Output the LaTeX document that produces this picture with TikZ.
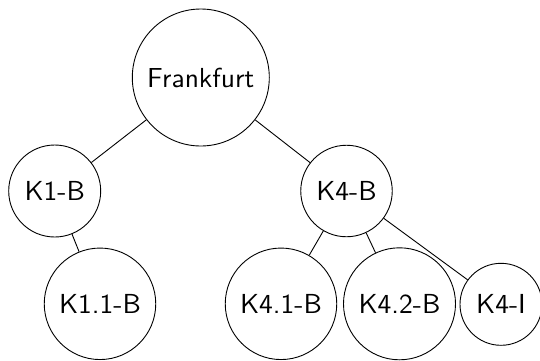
\documentclass[tikz,border=0pt]{standalone}
\usepackage{fontspec}
\newfontfamily\lmsten{lmsans10-regular.otf}
\begin{document}
\begin{tikzpicture}[x=1pt,y=-1pt,
  every node/.style={font=\lmsten\fontsize{27.5}{33}\selectfont},
  city/.style={draw, circle, inner sep=0pt, line width=0.9pt},
  link/.style={line width=0.9pt}]
\useasboundingbox (0,0) rectangle (540,360);
\clip (0,0) rectangle (540,360);
\node[city, minimum size=137pt] (F) at (200.8,77.5) {Frankfurt};
\node[city, minimum size=92pt] (K1) at (54.7,191) {K1-B};
\node[city, minimum size=91.5pt] (K4) at (346.5,191) {K4-B};
\node[city, minimum size=111.5pt] (K11) at (100,303.8) {K1.1-B};
\node[city, minimum size=111.5pt] (K41) at (281,303.8) {K4.1-B};
\node[city, minimum size=112pt] (K42) at (399.5,303.8) {K4.2-B};
\node[city, minimum size=82pt] (K4I) at (501,304.3) {K4-I};
\draw[link] (F) -- (K1);
\draw[link] (F) -- (K4);
\draw[link] (K1) -- (K11);
\draw[link] (K4) -- (K41);
\draw[link] (K4) -- (K42);
\draw[link] (K4) -- (K4I);
\end{tikzpicture}
\end{document}
